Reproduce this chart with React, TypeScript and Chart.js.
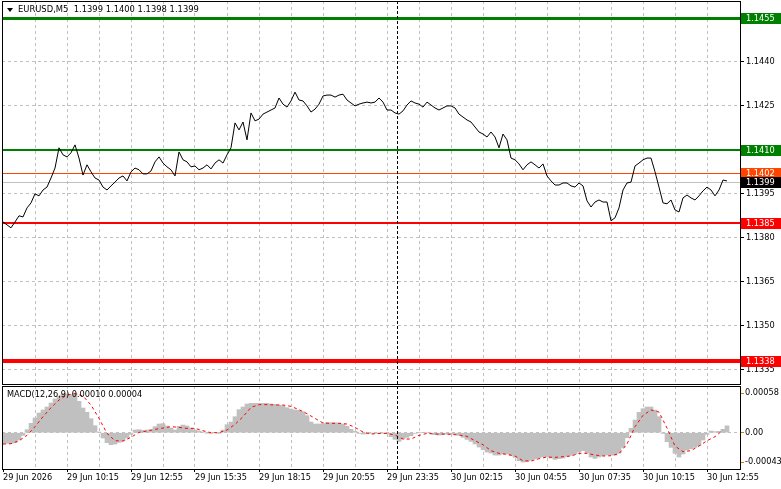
import { useEffect, useRef } from "react";
import { Chart, registerables } from "chart.js";

Chart.register(...registerables);

// ---------------- data ----------------
const symbolTitle = "EURUSD,M5  1.1399 1.1400 1.1398 1.1399";
const macdTitle = "MACD(12,26,9) 0.00010 0.00004";

// close prices, one sample every `closeStep` M5 bars, starting at bar 0
const closeStep = 2;
const closes = [
  1.13854, 1.13844, 1.13834, 1.13854, 1.13875, 1.13871, 1.13902, 1.13919, 1.1395, 1.13943,
  1.13963, 1.13973, 1.14004, 1.14038, 1.14107, 1.14083, 1.14076, 1.1409, 1.14117, 1.14072,
  1.14014, 1.14049, 1.14025, 1.14004, 1.13997, 1.13973, 1.13963, 1.13977, 1.1399, 1.14004,
  1.14011, 1.13994, 1.14025, 1.14038, 1.14032, 1.14018, 1.14018, 1.14028, 1.14059, 1.14076,
  1.14055, 1.14042, 1.14032, 1.14011, 1.14093, 1.14066, 1.14059, 1.14042, 1.14045, 1.14032,
  1.14038, 1.14049, 1.14035, 1.14055, 1.14066, 1.14055, 1.14083, 1.14107, 1.14192, 1.14168,
  1.14195, 1.14134, 1.14226, 1.14199, 1.14205, 1.14222, 1.14229, 1.14236, 1.14243, 1.14277,
  1.14256, 1.14246, 1.14267, 1.14297, 1.1427, 1.14267, 1.1425, 1.14229, 1.14239, 1.14256,
  1.14284, 1.14287, 1.14287, 1.1428, 1.14287, 1.1429, 1.1427, 1.1426, 1.1425, 1.14256,
  1.1426, 1.14263, 1.1426, 1.14263, 1.14277, 1.14263, 1.14236, 1.14236, 1.14226, 1.14222,
  1.14233, 1.14253, 1.14267, 1.1426, 1.14256, 1.14246, 1.14263, 1.14253, 1.14243, 1.14236,
  1.14243, 1.1425, 1.1425, 1.14243, 1.14222, 1.14212, 1.14202, 1.14195, 1.14178, 1.14161,
  1.14154, 1.14144, 1.14161, 1.14144, 1.14107, 1.14154, 1.14134, 1.14072, 1.14066, 1.14052,
  1.14032, 1.14049, 1.14059, 1.14049, 1.14038, 1.14052, 1.14011, 1.13994, 1.1398, 1.1398,
  1.13987, 1.13987, 1.13977, 1.13973, 1.13987, 1.13977, 1.13926, 1.13905, 1.13922, 1.13929,
  1.13922, 1.13922, 1.13858, 1.13868, 1.13902, 1.13963, 1.13987, 1.1399, 1.14045, 1.14055,
  1.14066, 1.14072, 1.14072, 1.14025, 1.13973, 1.13919, 1.13916, 1.13929, 1.13895, 1.13888,
  1.13936, 1.13946, 1.13936, 1.13929, 1.13943, 1.1396, 1.13973, 1.13963, 1.13943, 1.13963,
  1.13997, 1.13994,
];

// MACD(12,26,9) main histogram, one sample every `macdMainStep` bars
const macdMainStep = 2;
const macdMain = [
  -0.000156, -0.000156, -0.000156, -0.000146, -0.000107, -0.000039, 0.000044, 0.000137, 0.000215, 0.000288,
  0.000332, 0.000376, 0.000434, 0.000493, 0.000537, 0.000571, 0.000566, 0.000556, 0.00058, 0.000459,
  0.000361, 0.000298, 0.000205, 0.000102, 0.00001, -0.000078, -0.000146, -0.000176, -0.000166, -0.000141,
  -0.000122, -0.000078, -0.000024, 0.000039, 0.000044, 0.000034, 0.000039, 0.000044, 0.000088, 0.000127,
  0.000132, 0.000098, 0.000068, 0.000039, 0.000093, 0.000112, 0.000098, 0.000068, 0.000039, 0.000024,
  0.00001, -0.000005, -0.00001, 0, -0.00001, 0.000039, 0.000117, 0.000156, 0.000234, 0.000337,
  0.000376, 0.00042, 0.000429, 0.000429, 0.000429, 0.000429, 0.000429, 0.00042, 0.000415, 0.000405,
  0.000395, 0.000366, 0.000346, 0.000332, 0.000327, 0.000307, 0.000249, 0.000156, 0.000127, 0.000127,
  0.000132, 0.000146, 0.000146, 0.000146, 0.000141, 0.000127, 0.000093, 0.000049, 0.00002, -0.00001,
  -0.00002, -0.000015, -0.00001, -0.00001, -0.000005, -0.000005, -0.000015, -0.000059, -0.000098, -0.000127,
  -0.000093, -0.000068, -0.000044, -0.00001, 0, 0, 0, -0.000015, -0.000029, -0.000034,
  -0.000029, -0.00002, -0.00002, -0.000024, -0.000039, -0.000068, -0.000098, -0.000127, -0.000166, -0.00021,
  -0.000249, -0.000283, -0.000298, -0.000327, -0.000327, -0.000312, -0.000312, -0.000332, -0.000361, -0.00041,
  -0.00043, -0.000425, -0.000405, -0.000385, -0.000366, -0.000351, -0.000356, -0.000371, -0.00039, -0.00038,
  -0.000371, -0.000346, -0.000332, -0.000312, -0.000283, -0.000263, -0.000293, -0.000356, -0.000376, -0.000356,
  -0.000337, -0.000327, -0.000327, -0.000327, -0.000302, -0.000215, -0.000073, 0.000063, 0.000185, 0.000298,
  0.000351, 0.000376, 0.000376, 0.000332, 0.000234, -0.00001, -0.000132, -0.000215, -0.000302, -0.000356,
  -0.000312, -0.000254, -0.000234, -0.000215, -0.00019, -0.000107, -0.000024, 0.000024, 0.000015, 0.00002,
  0.000049, 0.0001,
];

// MACD signal line, one sample every `macdSignalStep` bars
const macdSignalStep = 4;
const macdSignal = [
  -0.000166, -0.000161, -0.000117, -0.000039, 0.000088, 0.000234, 0.000366, 0.000478, 0.000551, 0.000571,
  0.000537, 0.000405, 0.00021, -0.00001, -0.000117, -0.000122, -0.000068, 0.000005, 0.000024, 0.000049,
  0.000068, 0.000088, 0.000078, 0.000063, 0.000063, 0.000029, 0, 0, 0.000039, 0.000122,
  0.000234, 0.00037, 0.00041, 0.00041, 0.000405, 0.000405, 0.000385, 0.000337, 0.000278, 0.00021,
  0.000141, 0.000137, 0.000137, 0.000127, 0.000078, 0.00001, -0.00002, -0.00001, -0.00001, -0.000034,
  -0.000093, -0.000093, -0.000039, -0.00001, -0.00002, -0.00002, -0.000024, -0.000034, -0.000054, -0.000117,
  -0.000176, -0.000263, -0.000302, -0.000317, -0.000341, -0.00041, -0.000415, -0.00038, -0.000356, -0.000361,
  -0.000351, -0.000341, -0.000302, -0.000302, -0.000327, -0.000341, -0.000337, -0.000307, -0.000166, 0.000088,
  0.000254, 0.000332, 0.000302, 0.000068, -0.000195, -0.000278, -0.000263, -0.000195, -0.000117, -0.000059,
  0.00004,
];

// time axis: a label every 32 bars, a grid line every 16 bars
const timeLabels = [
  "29 Jun 2026", "29 Jun 10:15", "29 Jun 12:55", "29 Jun 15:35", "29 Jun 18:15", "29 Jun 20:55",
  "29 Jun 23:35", "30 Jun 02:15", "30 Jun 04:55", "30 Jun 07:35", "30 Jun 10:15", "30 Jun 12:55",
];
const labelEvery = 32;
const gridEvery = 16;
const separatorBar = 197; // 30 Jun 00:00
const firstBar = -0.5;
const lastBar = 368.5;

const priceTicks = [1.1335, 1.135, 1.1365, 1.138, 1.1395, 1.141, 1.1425, 1.144, 1.1455];
const priceMin = 1.13301;
const priceMax = 1.14608;
const macdTicks = [0.00058, 0, -0.00043];
const macdTickLabels = ["0.00058", "0.00", "-0.00043"];
const macdMin = -0.000531;
const macdMax = 0.000683;

// horizontal levels (price lines) and their labels
const levelValues = [1.1455, 1.141, 1.1402, 1.1399, 1.1385, 1.1338];
const levelLabels = ["1.1455", "1.1410", "1.1402", "1.1399", "1.1385", "1.1338"];

// ---------------- styles ----------------
const levelLineColors = ["#008000", "#008000", "#ff4500", "#c0c0c0", "#ff0000", "#ff0000"];
const levelBoxColors = ["#008000", "#008000", "#ff4500", "#000000", "#ff0000", "#ff0000"];
const levelLineWidths = [3, 2, 1, 1, 2, 4];
const FONT = "'DejaVu Sans', Verdana, sans-serif";
const AXIS_SIZE = 8.2;
const GRID = "#c0c0c0";

Chart.defaults.font.family = FONT;
Chart.defaults.font.size = AXIS_SIZE;

const gridTickValues: number[] = [];
for (let v = 0; v <= 352; v += gridEvery) gridTickValues.push(v);

function drawSeparator(chart: any) {
  const { ctx, chartArea: a, scales } = chart;
  const sx = Math.round(scales.x.getPixelForValue(separatorBar)) + 0.5;
  ctx.save();
  ctx.strokeStyle = "#000";
  ctx.lineWidth = 1;
  ctx.setLineDash([3, 2]);
  ctx.beginPath();
  ctx.moveTo(sx, a.top);
  ctx.lineTo(sx, a.bottom);
  ctx.stroke();
  ctx.restore();
}

function drawFrame(chart: any) {
  const { ctx, chartArea: a } = chart;
  ctx.save();
  ctx.strokeStyle = "#000";
  ctx.lineWidth = 1;
  ctx.setLineDash([]);
  ctx.strokeRect(a.left + 0.5, a.top + 0.5, a.right - a.left, a.bottom - a.top);
  ctx.restore();
}

const mainDecor = {
  id: "mainDecor",
  beforeDatasetsDraw(chart: any) {
    const { ctx, chartArea: a, scales } = chart;
    ctx.save();
    ctx.beginPath();
    ctx.rect(a.left, a.top, a.right - a.left, a.bottom - a.top);
    ctx.clip();
    levelValues.forEach((v, i) => {
      const py = Math.round(scales.y.getPixelForValue(v));
      const w = levelLineWidths[i];
      ctx.fillStyle = levelLineColors[i];
      ctx.fillRect(a.left, py - Math.floor(w / 2), a.right - a.left, w);
    });
    ctx.restore();
  },
  afterDatasetsDraw(chart: any) {
    drawSeparator(chart);
  },
  afterDraw(chart: any) {
    const { ctx, chartArea: a, scales } = chart;
    drawFrame(chart);
    ctx.save();
    ctx.font = `${AXIS_SIZE}px ${FONT}`;
    ctx.textBaseline = "middle";
    ctx.textAlign = "left";
    levelValues.forEach((v, i) => {
      const py = Math.round(scales.y.getPixelForValue(v));
      ctx.fillStyle = levelBoxColors[i];
      ctx.fillRect(a.right + 1, py - 5, 781 - a.right - 1, 11);
      ctx.fillStyle = "#ffffff";
      ctx.fillText(levelLabels[i], a.right + 6, py + 0.5);
    });
    // header
    ctx.fillStyle = "#000";
    ctx.beginPath();
    ctx.moveTo(7, 8);
    ctx.lineTo(13, 8);
    ctx.lineTo(10, 12);
    ctx.closePath();
    ctx.fill();
    ctx.font = `8.4px ${FONT}`;
    ctx.fillText(symbolTitle, 18, 10);
    ctx.restore();
  },
};

const macdDecor = {
  id: "macdDecor",
  afterDatasetsDraw(chart: any) {
    drawSeparator(chart);
  },
  afterDraw(chart: any) {
    const { ctx, chartArea: a } = chart;
    drawFrame(chart);
    ctx.save();
    ctx.fillStyle = "#000";
    ctx.font = `${AXIS_SIZE}px ${FONT}`;
    ctx.textBaseline = "middle";
    ctx.textAlign = "left";
    ctx.fillText(macdTitle, 7, a.top + 9);
    ctx.restore();
  },
};

function mainConfig(): any {
  return {
    type: "line",
    data: {
      datasets: [
        {
          data: closes.map((v, k) => ({ x: k * closeStep, y: v })),
          borderColor: "#000000",
          borderWidth: 1,
          pointRadius: 0,
          tension: 0,
          fill: false,
        },
      ],
    },
    options: {
      responsive: false,
      animation: false,
      devicePixelRatio: 1,
      events: [],
      layout: { padding: { top: 1, left: 2, right: 0, bottom: 2 } },
      plugins: { legend: { display: false }, tooltip: { enabled: false } },
      scales: {
        x: {
          type: "linear",
          min: firstBar,
          max: lastBar,
          offset: false,
          afterBuildTicks: (s: any) => {
            s.ticks = gridTickValues.filter((v) => v > 0).map((v) => ({ value: v }));
          },
          afterFit: (s: any) => {
            s.height = 0;
            s.paddingLeft = 0;
            s.paddingRight = 0;
          },
          ticks: { display: false },
          grid: { color: GRID, drawTicks: false, lineWidth: 1, offset: false },
          border: { display: false, dash: [3, 3] },
        },
        y: {
          type: "linear",
          position: "right",
          min: priceMin,
          max: priceMax,
          afterBuildTicks: (s: any) => {
            s.ticks = priceTicks.map((v) => ({ value: v }));
          },
          afterFit: (s: any) => {
            s.width = 41;
            s.paddingTop = 0;
            s.paddingBottom = 0;
          },
          ticks: {
            autoSkip: false,
            padding: 2,
            color: "#000",
            font: { family: FONT, size: AXIS_SIZE },
            callback: (v: any) => Number(v).toFixed(4),
          },
          grid: { color: GRID, tickColor: "#000", tickLength: 4, lineWidth: 1 },
          border: { display: false, dash: [3, 3] },
        },
      },
    },
    plugins: [mainDecor],
  };
}

function macdConfig(): any {
  return {
    type: "line",
    data: {
      datasets: [
        {
          type: "line",
          data: macdSignal.map((v, k) => ({ x: k * macdSignalStep, y: v })),
          borderColor: "#ff0000",
          borderWidth: 1,
          borderDash: [3, 3],
          pointRadius: 0,
          tension: 0,
          fill: false,
        },
        {
          type: "bar",
          data: macdMain.map((v, k) => ({ x: k * macdMainStep, y: v })),
          backgroundColor: "#c0c0c0",
          borderWidth: 0,
          barPercentage: 1,
          categoryPercentage: 1,
          grouped: false,
        },
      ],
    },
    options: {
      responsive: false,
      animation: false,
      devicePixelRatio: 1,
      events: [],
      layout: { padding: { top: 6, left: 2, right: 0, bottom: 0 } },
      plugins: { legend: { display: false }, tooltip: { enabled: false } },
      scales: {
        x: {
          type: "linear",
          min: firstBar,
          max: lastBar,
          offset: false,
          afterBuildTicks: (s: any) => {
            s.ticks = gridTickValues.map((v) => ({ value: v }));
          },
          afterFit: (s: any) => {
            s.height = 20;
            s.paddingLeft = 0;
            s.paddingRight = 0;
          },
          ticks: {
            autoSkip: false,
            maxRotation: 0,
            minRotation: 0,
            align: "start",
            padding: 1,
            color: "#000",
            font: { family: FONT, size: AXIS_SIZE },
            callback: (v: any) => {
              const n = Math.round(Number(v));
              return n % labelEvery === 0 ? timeLabels[n / labelEvery] : "";
            },
          },
          grid: {
            offset: false,
            lineWidth: 1,
            color: (c: any) => (c.tick && c.tick.value > 0 ? GRID : "rgba(0,0,0,0)"),
            tickColor: (c: any) =>
              c.tick && Math.round(c.tick.value) % labelEvery === 0 ? "#000" : "rgba(0,0,0,0)",
            tickLength: 3,
          },
          border: { display: false, dash: [3, 3] },
        },
        y: {
          type: "linear",
          position: "right",
          min: macdMin,
          max: macdMax,
          afterBuildTicks: (s: any) => {
            s.ticks = macdTicks.map((v) => ({ value: v }));
          },
          afterFit: (s: any) => {
            s.width = 41;
            s.paddingTop = 0;
            s.paddingBottom = 0;
          },
          ticks: {
            autoSkip: false,
            padding: 1,
            color: "#000",
            font: { family: FONT, size: AXIS_SIZE },
            callback: (v: any) => {
              const idx = macdTicks.findIndex((t) => Math.abs(t - Number(v)) < 1e-9);
              return idx >= 0 ? macdTickLabels[idx] : "";
            },
          },
          grid: {
            lineWidth: 1,
            color: (c: any) => (c.tick && Math.abs(c.tick.value) < 1e-9 ? GRID : "rgba(0,0,0,0)"),
            tickColor: "#e07b00",
            tickLength: 4,
          },
          border: { display: false, dash: [3, 3] },
        },
      },
    },
    plugins: [macdDecor],
  };
}

export default function App() {
  const mainRef = useRef<HTMLCanvasElement>(null);
  const macdRef = useRef<HTMLCanvasElement>(null);

  useEffect(() => {
    const c1 = new Chart(mainRef.current as HTMLCanvasElement, mainConfig());
    const c2 = new Chart(macdRef.current as HTMLCanvasElement, macdConfig());
    return () => {
      c1.destroy();
      c2.destroy();
    };
  }, []);

  return (
    <div
      style={{
        position: "fixed",
        left: 0,
        top: 0,
        width: 781,
        height: 489,
        background: "#ffffff",
        overflow: "hidden",
      }}
    >
      <canvas
        ref={mainRef}
        width={781}
        height={386}
        style={{ position: "absolute", left: 0, top: 0, width: 781, height: 386 }}
      />
      <canvas
        ref={macdRef}
        width={781}
        height={109}
        style={{ position: "absolute", left: 0, top: 380, width: 781, height: 109 }}
      />
    </div>
  );
}
